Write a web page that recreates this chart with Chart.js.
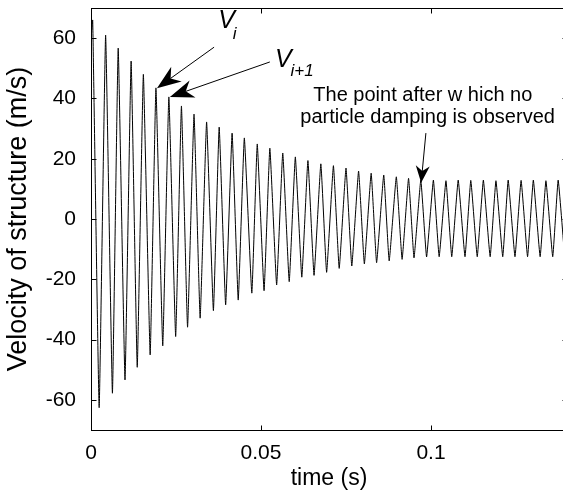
<!DOCTYPE html>
<html>
<head>
<meta charset="utf-8">
<script src="https://cdn.jsdelivr.net/npm/chart.js@4.4.1/dist/chart.umd.min.js"></script>
<style>
  html, body { margin: 0; padding: 0; background: #fff; overflow: hidden; }
  canvas { display: block; }
</style>
</head>
<body>
<canvas id="chartVelocity" width="575" height="496"></canvas>
<script>
// velocity of the structure, peaks and troughs (s, m/s)
const startTime = 0;
const startValue = 60;

const peakTimes = [
  0.0005, 0.0043, 0.0080, 0.0118, 0.0154, 0.0191, 0.0229, 0.0266, 0.0303, 0.0340,
  0.0377, 0.0415, 0.0451, 0.0489, 0.0526, 0.0564, 0.0601, 0.0638, 0.0676, 0.0713,
  0.0750, 0.0787, 0.0824, 0.0861, 0.0898, 0.0934, 0.0970, 0.1007, 0.1044, 0.1080,
  0.1117, 0.1154, 0.1191, 0.1227, 0.1265, 0.1301, 0.1338, 0.1374
];
const peakValues = [
  66, 61, 56.7, 52.4, 48, 43.5, 40.5, 37.5, 34.8, 32.2,
  30.5, 28.5, 26.9, 24.9, 23.5, 21.9, 20.6, 19.4, 18.3, 17.7,
  16.9, 15.9, 15.2, 14.6, 14.0, 13.5, 12.9, 12.9, 12.7, 12.9,
  12.8, 12.9, 12.7, 12.9, 12.8, 12.9, 12.7, 12.9
];
const troughTimes = [
  0.0024, 0.0063, 0.0100, 0.0136, 0.0174, 0.0211, 0.0249, 0.0284, 0.0321, 0.0360,
  0.0396, 0.0433, 0.0473, 0.0509, 0.0546, 0.0583, 0.0620, 0.0656, 0.0693, 0.0730,
  0.0767, 0.0804, 0.0840, 0.0877, 0.0915, 0.0950, 0.0987, 0.1024, 0.1061, 0.1100,
  0.1136, 0.1174, 0.1211, 0.1247, 0.1284, 0.1321, 0.1358, 0.1393
];
const troughValues = [
  -62.6, -57.8, -53.4, -49.2, -45.1, -42.1, -39.0, -35.9, -32.9, -30.4,
  -28.5, -26.9, -24.6, -23.8, -21.9, -20.8, -19.3, -18.7, -17.7, -16.4,
  -15.6, -14.9, -14.5, -13.9, -13.4, -12.9, -12.6, -12.5, -12.5, -12.5,
  -12.5, -12.5, -12.5, -12.5, -12.5, -12.5, -12.5, -12.5
];

const xTicks = [0, 0.05, 0.1];
const yTicks = [-60, -40, -20, 0, 20, 40, 60];

const FONT = "'Liberation Sans', Arial, Helvetica, sans-serif";

// arrows and notes, in data units
const arrows = [
  { from: [0.0362, 57.0], to: [0.0194, 43.4], head: 24, half: 9 },
  { from: [0.0526, 52.1], to: [0.0232, 40.5], head: 24, half: 9 },
  { from: [0.0985, 28.5], to: [0.0971, 12.0], head: 17, half: 7 }
];
const notes = [
  { text: 'V', at: [0.0374, 63.3], size: 25, italic: true, align: 'left' },
  { text: 'i', at: [0.0417, 59.8], size: 17, italic: true, align: 'left' },
  { text: 'V', at: [0.0541, 50.4], size: 25, italic: true, align: 'left' },
  { text: 'i+1', at: [0.0587, 47.4], size: 17, italic: true, align: 'left' },
  { text: 'The point after w hich no', at: [0.0976, 41.1], size: 20, align: 'center' },
  { text: 'particle damping is observed', at: [0.0990, 33.8], size: 20, align: 'center' }
];

const points = [{ x: startTime, y: startValue }];
for (let i = 0; i < peakTimes.length; i++) {
  points.push({ x: peakTimes[i], y: peakValues[i] });
  if (i < troughTimes.length) {
    points.push({ x: troughTimes[i], y: troughValues[i] });
  }
}

const frameTicks = {
  id: 'frameTicks',
  afterDraw(chart) {
    const { ctx, chartArea: a, scales: { x, y } } = chart;
    ctx.save();
    ctx.strokeStyle = '#000';
    ctx.lineWidth = 1;
    const l = Math.round(a.left) + 0.5, r = Math.round(a.right) + 0.5;
    const t = Math.round(a.top) + 0.5, b = Math.round(a.bottom) + 0.5;
    ctx.strokeRect(l, t, r - l, b - t);
    ctx.beginPath();
    xTicks.forEach((v) => {
      const px = Math.round(x.getPixelForValue(v)) + 0.5;
      ctx.moveTo(px, b); ctx.lineTo(px, b - 5);
      ctx.moveTo(px, t); ctx.lineTo(px, t + 5);
    });
    yTicks.forEach((v) => {
      const py = Math.round(y.getPixelForValue(v)) + 0.5;
      ctx.moveTo(l, py); ctx.lineTo(l + 5, py);
      ctx.moveTo(r, py); ctx.lineTo(r - 5, py);
    });
    ctx.stroke();
    ctx.restore();
  },
  afterDatasetsDraw(chart) {
    const { ctx, scales: { x, y } } = chart;
    ctx.save();
    ctx.strokeStyle = '#000';
    ctx.fillStyle = '#000';
    ctx.lineWidth = 1;
    arrows.forEach((ar) => {
      const x0 = x.getPixelForValue(ar.from[0]), y0 = y.getPixelForValue(ar.from[1]);
      const x1 = x.getPixelForValue(ar.to[0]), y1 = y.getPixelForValue(ar.to[1]);
      const ang = Math.atan2(y1 - y0, x1 - x0);
      const ux = Math.cos(ang), uy = Math.sin(ang);
      const bx = x1 - ux * ar.head, by = y1 - uy * ar.head;
      const nx = x1 - ux * ar.head * 0.7, ny = y1 - uy * ar.head * 0.7;
      ctx.beginPath();
      ctx.moveTo(x0, y0);
      ctx.lineTo(nx, ny);
      ctx.stroke();
      ctx.beginPath();
      ctx.moveTo(x1, y1);
      ctx.lineTo(bx - uy * ar.half, by + ux * ar.half);
      ctx.lineTo(nx, ny);
      ctx.lineTo(bx + uy * ar.half, by - ux * ar.half);
      ctx.closePath();
      ctx.fill();
    });
    notes.forEach((n) => {
      ctx.font = (n.italic ? 'italic ' : '') + n.size + 'px ' + FONT;
      ctx.textAlign = n.align;
      ctx.textBaseline = n.italic ? 'alphabetic' : 'middle';
      ctx.fillText(n.text, x.getPixelForValue(n.at[0]), y.getPixelForValue(n.at[1]));
    });
    ctx.restore();
  }
};

const chartVelocity = document.getElementById('chartVelocity').getContext('2d');
const myChart = new Chart(chartVelocity, {
  type: 'line',
  data: {
    datasets: [
      {
        data: points,
        borderColor: '#000',
        borderWidth: 1,
        pointRadius: 0,
        tension: 0.1,
        fill: false,
      },
    ],
  },
  options: {
    responsive: false,
    animation: false,
    events: [],
    layout: { padding: { top: 8, right: 8, left: 0, bottom: 0 } },
    plugins: { legend: { display: false }, tooltip: { enabled: false } },
    scales: {
      x: {
        type: 'linear',
        min: 0,
        max: 0.14,
        grid: { display: false },
        border: { display: false },
        afterBuildTicks: (s) => { s.ticks = xTicks.map((v) => ({ value: v })); },
        afterFit: (s) => { s.height = 66; s.paddingLeft = 0; s.paddingRight = 0; },
        ticks: {
          color: '#000',
          padding: 3,
          maxRotation: 0,
          font: { family: FONT, size: 21 },
          callback: (v) => String(v),
        },
        title: {
          display: true,
          text: 'time (s)',
          color: '#000',
          font: { family: FONT, size: 23 },
          padding: { top: 0 },
        },
      },
      y: {
        min: -70,
        max: 70,
        grid: { display: false },
        border: { display: false },
        afterBuildTicks: (s) => { s.ticks = yTicks.map((v) => ({ value: v })); },
        afterFit: (s) => { s.width = 91; s.paddingTop = 0; s.paddingBottom = 0; },
        ticks: {
          color: '#000',
          padding: 7,
          font: { family: FONT, size: 21 },
          callback: (v) => String(v),
        },
        title: {
          display: true,
          text: 'Velocity of structure (m/s)',
          color: '#000',
          font: { family: FONT, size: 27 },
          padding: { bottom: 0, top: 2 },
        },
      },
    },
  },
  plugins: [frameTicks],
});
</script>
</body>
</html>
